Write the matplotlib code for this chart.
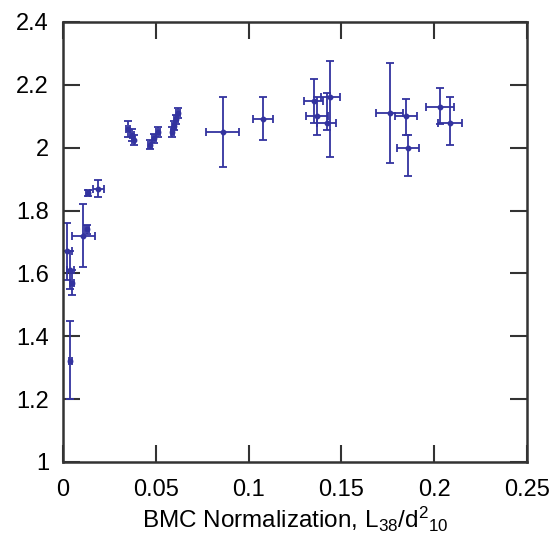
import numpy as np
import matplotlib
matplotlib.use("Agg")
import matplotlib.pyplot as plt

plt.rcParams['font.family'] = ['Liberation Sans', 'DejaVu Sans']
plt.rcParams['mathtext.fontset'] = 'custom'
plt.rcParams['mathtext.rm'] = 'Liberation Sans'
plt.rcParams['mathtext.it'] = 'Liberation Sans'

# BMC normalization and measured value, with error bars
norm_x = [0.002, 0.004, 0.005, 0.004, 0.011, 0.013, 0.0136, 0.019,
          0.035, 0.037, 0.038, 0.047, 0.049, 0.051,
          0.059, 0.060, 0.061, 0.062,
          0.086, 0.108, 0.135, 0.137, 0.144, 0.142,
          0.176, 0.185, 0.186, 0.203, 0.2085]
value_y = [1.67, 1.61, 1.57, 1.32, 1.72, 1.74, 1.855, 1.87,
           2.06, 2.04, 2.025, 2.01, 2.03, 2.05,
           2.05, 2.07, 2.09, 2.11,
           2.05, 2.09, 2.15, 2.10, 2.16, 2.08,
           2.11, 2.10, 2.00, 2.13, 2.08]
x_err = [0.003, 0.002, 0.001, 0.001, 0.006, 0.001, 0.001, 0.003,
         0.001, 0.001, 0.001, 0.001, 0.001, 0.001,
         0.001, 0.001, 0.001, 0.001,
         0.009, 0.0054, 0.005, 0.006, 0.005, 0.005,
         0.0073, 0.006, 0.006, 0.0075, 0.0067]
y_err_low = [0.09, 0.06, 0.04, 0.12, 0.10, 0.015, 0.01, 0.028,
             0.025, 0.02, 0.015, 0.015, 0.015, 0.015,
             0.015, 0.015, 0.015, 0.015,
             0.11, 0.065, 0.07, 0.06, 0.19, 0.025,
             0.16, 0.06, 0.09, 0.055, 0.07]
y_err_high = [0.09, 0.06, 0.04, 0.13, 0.10, 0.015, 0.01, 0.028,
              0.025, 0.02, 0.015, 0.015, 0.015, 0.015,
              0.015, 0.015, 0.015, 0.015,
              0.11, 0.07, 0.07, 0.06, 0.115, 0.095,
              0.16, 0.055, 0.04, 0.06, 0.08]

x_ticks = [0, 0.05, 0.1, 0.15, 0.2, 0.25]
x_tick_labels = ['0', '0.05', '0.1', '0.15', '0.2', '0.25']
y_ticks = [1, 1.2, 1.4, 1.6, 1.8, 2, 2.2, 2.4]
y_tick_labels = ['1', '1.2', '1.4', '1.6', '1.8', '2', '2.2', '2.4']

fig = plt.figure(figsize=(5.58, 5.36), dpi=100)
ax = fig.add_axes([0.1129, 0.1381, 0.8315, 0.8209])

ax.errorbar(norm_x, value_y, xerr=x_err, yerr=[y_err_low, y_err_high],
            fmt='o', color='#33339f', markersize=3.2, elinewidth=1.3,
            capsize=2.8, capthick=1.3)

ax.set_xlim(0, 0.25)
ax.set_ylim(1, 2.4)
ax.set_xticks(x_ticks)
ax.set_xticklabels(x_tick_labels)
ax.set_yticks(y_ticks)
ax.set_yticklabels(y_tick_labels)

ax.tick_params(direction='in', length=12, width=1.5, color='#333333',
               top=True, right=True, labelsize=17)
ax.tick_params(axis='x', pad=12)
ax.tick_params(axis='y', pad=10)
for spine in ax.spines.values():
    spine.set_linewidth(1.8)
    spine.set_color('#333333')

ax.set_xlabel('BMC Normalization, L$_{38}$/d$^{2}{}_{10}$', fontsize=17.5,
              labelpad=3)

fig.savefig('out.png', dpi=100)
